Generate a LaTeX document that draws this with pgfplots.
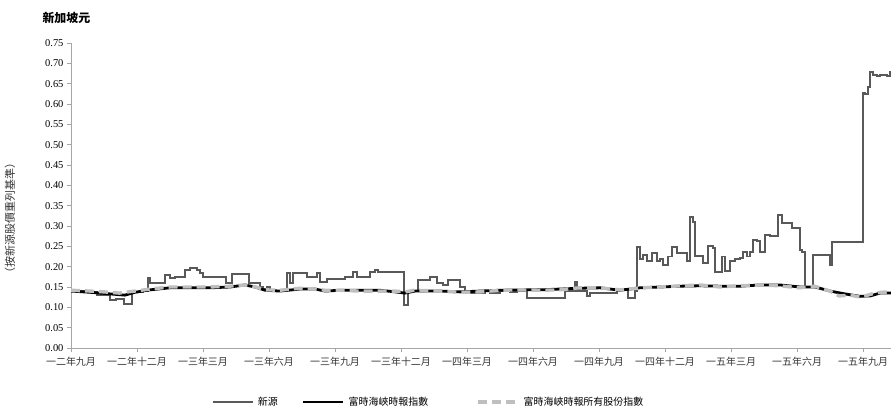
\documentclass[border=0pt]{standalone}
\usepackage{pgfplots}
\pgfplotsset{compat=1.18}
\usepackage{fontspec}
\setmainfont{Liberation Serif}
\newfontfamily\cjk{Noto Sans CJK TC}
\definecolor{xinyuan}{HTML}{595959}
\definecolor{idxgrey}{HTML}{BFBFBF}
\definecolor{axisgrey}{HTML}{A6A6A6}
\begin{document}
\begin{tikzpicture}[x=1bp,y=1bp]
\useasboundingbox (0,0) rectangle (891,418);
\node[anchor=west,font=\cjk\bfseries\fontsize{12}{12}\selectfont] at (39,400) {新加坡元};
\node[rotate=90,font=\cjk\fontsize{11}{11}\selectfont,color=black!80] at (10,200) {（按新源股價重列基準）};
\begin{axis}[
  at={(71bp,70bp)}, anchor=south west,
  scale only axis, width=820bp, height=305bp,
  xmin=0, xmax=37.27, ymin=0, ymax=0.75,
  axis x line*=bottom, axis y line*=left,
  axis line style={color=axisgrey, line width=0.9pt},
  tick style={color=axisgrey, line width=0.8pt},
  tick align=outside, major tick length=4bp,
  xtick={0,3,...,36},
  xticklabels={一二年九月,一二年十二月,一三年三月,一三年六月,一三年九月,一三年十二月,一四年三月,一四年六月,一四年九月,一四年十二月,一五年三月,一五年六月,一五年九月},
  xticklabel style={font=\cjk\fontsize{10}{10}\selectfont, color=black!80, yshift=-2bp},
  ytick={0,0.05,...,0.76},
  yticklabel style={font=\fontsize{10.5}{10.5}\selectfont, /pgf/number format/.cd, fixed, fixed zerofill, precision=2, assume math mode=true},
  legend columns=3,
  legend style={draw=none, at={(0.168,-0.177)}, anchor=west, font=\cjk\fontsize{10}{10}\selectfont,
    /tikz/every odd column/.style={column sep=2bp},
    /tikz/column 2/.style={column sep=22bp},
    /tikz/column 4/.style={column sep=46bp}},
  legend image code/.code={\draw[#1] (0bp,0bp) -- (40bp,0bp);},
]
\addplot[color=xinyuan, line width=2pt, const plot] coordinates {
(0.00,0.140) (0.86,0.138) (1.18,0.130) (1.68,0.130) (1.77,0.118) (2.05,0.121) (2.32,0.121) (2.41,0.108) (2.68,0.108) (2.77,0.138)
(3.27,0.140) (3.50,0.172) (3.59,0.160) (4.18,0.160) (4.27,0.180) (4.50,0.172) (4.73,0.175) (5.18,0.192) (5.41,0.197) (5.73,0.192)
(5.86,0.185) (6.00,0.175) (7.00,0.175) (7.05,0.160) (7.32,0.182) (8.05,0.182) (8.09,0.160) (8.45,0.160) (8.59,0.150) (8.73,0.145)
(8.91,0.150) (9.05,0.140) (9.36,0.140) (9.82,0.184) (9.95,0.160) (10.09,0.185) (10.73,0.175) (11.18,0.185) (11.32,0.162) (11.64,0.170)
(12.36,0.170) (12.45,0.175) (12.82,0.187) (13.00,0.175) (13.59,0.187) (13.82,0.192) (13.95,0.187) (15.09,0.187) (15.14,0.105) (15.32,0.140)
(15.77,0.167) (16.32,0.175) (16.64,0.160) (16.91,0.155) (17.14,0.167) (17.50,0.167) (17.68,0.150) (17.91,0.140) (18.14,0.135) (18.82,0.140)
(19.05,0.135) (19.50,0.140) (19.95,0.138) (20.27,0.140) (20.73,0.123) (22.23,0.123) (22.45,0.140) (22.91,0.162) (23.00,0.140) (23.45,0.128)
(23.59,0.135) (24.50,0.135) (24.82,0.145) (25.18,0.145) (25.32,0.122) (25.50,0.122) (25.64,0.140) (25.73,0.249) (25.86,0.220) (26.00,0.228)
(26.18,0.215) (26.41,0.233) (26.64,0.215) (26.77,0.220) (26.91,0.204) (27.14,0.225) (27.32,0.249) (27.55,0.233) (27.82,0.233) (28.00,0.215)
(28.14,0.322) (28.27,0.310) (28.36,0.227) (28.73,0.210) (28.95,0.250) (29.18,0.245) (29.27,0.187) (29.50,0.187) (29.59,0.225) (29.73,0.190)
(29.95,0.215) (30.18,0.218) (30.41,0.222) (30.55,0.237) (30.73,0.225) (30.86,0.237) (31.00,0.266) (31.18,0.262) (31.32,0.237) (31.55,0.278)
(31.77,0.275) (32.14,0.327) (32.32,0.307) (32.68,0.307) (32.77,0.295) (33.05,0.295) (33.14,0.241) (33.23,0.235) (33.36,0.150) (33.68,0.150)
(33.73,0.229) (34.41,0.229) (34.50,0.205) (34.59,0.261) (35.95,0.261) (35.98,0.627) (36.09,0.625) (36.23,0.642) (36.32,0.679) (36.45,0.672)
(36.64,0.668) (36.77,0.672) (37.09,0.670) (37.23,0.679) (37.27,0.680)
};
\addlegendentry{新源}
\addplot[color=black, line width=2.8pt] coordinates {
(0.00,0.140) (0.86,0.137) (1.32,0.135) (2.00,0.132) (2.45,0.130) (2.91,0.137) (3.59,0.143) (4.50,0.148) (5.41,0.148) (6.32,0.148)
(7.23,0.150) (7.91,0.155) (8.36,0.150) (8.82,0.142) (9.50,0.140) (10.41,0.145) (11.09,0.145) (11.55,0.140) (12.23,0.142) (13.14,0.142)
(14.05,0.142) (14.73,0.138) (15.18,0.135) (15.64,0.140) (16.77,0.140) (17.68,0.138) (18.59,0.140) (19.50,0.142) (20.41,0.143) (21.32,0.143)
(22.23,0.145) (23.14,0.147) (24.05,0.148) (24.95,0.142) (25.86,0.148) (26.77,0.150) (27.68,0.152) (28.59,0.153) (29.50,0.152) (30.41,0.152)
(31.32,0.155) (32.23,0.155) (33.14,0.150) (33.82,0.150) (34.50,0.140) (35.18,0.133) (35.86,0.127) (36.32,0.128) (36.77,0.135) (37.27,0.135)
};
\addlegendentry{富時海峽時報指數}
\addplot[color=idxgrey, line width=3.4pt, dash pattern=on 9bp off 5bp] coordinates {
(0.00,0.142) (0.86,0.140) (1.50,0.138) (2.20,0.135) (2.60,0.138) (3.20,0.142) (3.60,0.145) (4.50,0.150) (5.40,0.150) (6.30,0.150)
(7.20,0.152) (7.90,0.155) (8.40,0.150) (8.80,0.143) (9.50,0.142) (10.40,0.147) (11.10,0.145) (11.55,0.142) (12.20,0.142) (13.10,0.140)
(14.00,0.140) (14.70,0.140) (15.20,0.138) (15.60,0.142) (16.80,0.140) (17.70,0.137) (18.60,0.138) (19.50,0.142) (20.40,0.143) (21.30,0.142)
(22.20,0.143) (23.10,0.148) (24.00,0.148) (25.00,0.143) (25.90,0.148) (26.80,0.150) (27.70,0.153) (28.60,0.155) (29.50,0.150) (30.40,0.153)
(31.30,0.155) (32.20,0.153) (33.10,0.148) (33.80,0.152) (34.50,0.140) (34.90,0.128) (35.40,0.130) (35.90,0.125) (36.40,0.133) (36.80,0.137) (37.27,0.138)
};
\addlegendentry{富時海峽時報所有股份指數}
\end{axis}
\end{tikzpicture}
\end{document}
